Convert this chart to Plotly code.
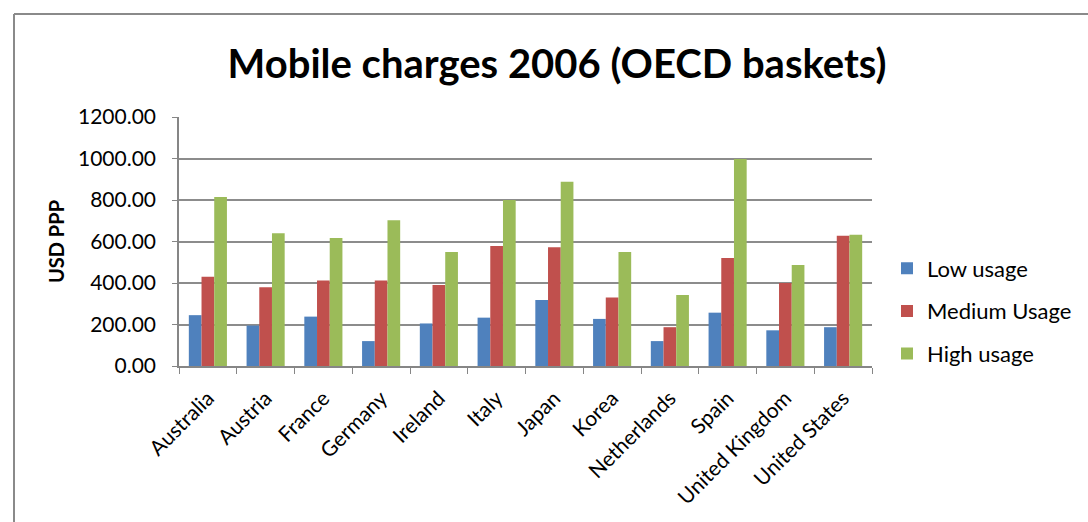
import plotly.graph_objects as go

countries = ["Australia", "Austria", "France", "Germany", "Ireland", "Italy",
             "Japan", "Korea", "Netherlands", "Spain", "United Kingdom", "United States"]
low_usage = [245, 195, 238, 120, 205, 233, 318, 227, 120, 257, 172, 187]
medium_usage = [430, 380, 412, 412, 390, 578, 572, 330, 187, 520, 400, 628]
high_usage = [815, 640, 617, 703, 550, 800, 888, 550, 342, 998, 487, 633]
y_ticks = [0, 200, 400, 600, 800, 1000, 1200]

FONT = "Lato"
fig = go.Figure()
series = [("Low usage", low_usage, "#4F81BD"),
          ("Medium Usage", medium_usage, "#C0504D"),
          ("High usage", high_usage, "#9BBB59")]
for name, vals, col in series:
    fig.add_trace(go.Bar(x=countries, y=vals, name=name, marker_color=col,
                         marker_line_width=0, legendgroup=name))

L, R, T, B = 179, 216, 117, 156
W, H = 1088, 522
pw, ph = W - L - R, H - T - B

def px_x(x):
    return (x - L) / pw

def px_y(y):
    return (H - B - y) / ph

fig.update_layout(
    width=W, height=H,
    margin=dict(l=L, r=R, t=T, b=B, autoexpand=False),
    paper_bgcolor="white", plot_bgcolor="white",
    barmode="group", bargap=0.34, bargroupgap=0,
    title=dict(text="<b>Mobile charges 2006 (OECD baskets)</b>",
               x=0.512, xanchor="center", y=1 - 64 / H, yanchor="middle",
               font=dict(family=FONT, size=40, color="black")),
    font=dict(family=FONT, color="black"),
    legend=dict(x=px_x(887), xanchor="left", y=px_y(311), yanchor="middle",
                font=dict(family=FONT, size=22, color="black"),
                tracegroupgap=11, bgcolor="rgba(0,0,0,0)"),
    xaxis=dict(type="category", tickangle=-45, tickfont=dict(size=21),
               showline=True, linecolor="#868686", linewidth=1.5,
               ticks="outside", tickson="boundaries", ticklen=6,
               tickcolor="#868686", showgrid=False, ticklabelstandoff=10),
    yaxis=dict(range=[0, 1200], tickvals=y_ticks, tickformat=".2f",
               tickfont=dict(size=21), showgrid=True, gridcolor="#8c8c8c",
               gridwidth=1.5, showline=True, linecolor="#868686", linewidth=1.5,
               ticks="outside", ticklen=5, tickcolor="#868686", zeroline=False,
               ticklabelstandoff=12,
               title=dict(text="<b>USD PPP</b>", font=dict(size=20), standoff=8)),
)

# chart frame
fig.add_shape(type="line", xref="paper", yref="paper",
              x0=px_x(14), x1=px_x(1100), y0=px_y(14), y1=px_y(14),
              line=dict(color="#8a8a8a", width=2))
fig.add_shape(type="line", xref="paper", yref="paper",
              x0=px_x(14), x1=px_x(14), y0=px_y(14), y1=px_y(530),
              line=dict(color="#8a8a8a", width=2))

fig.write_html("out.html")
